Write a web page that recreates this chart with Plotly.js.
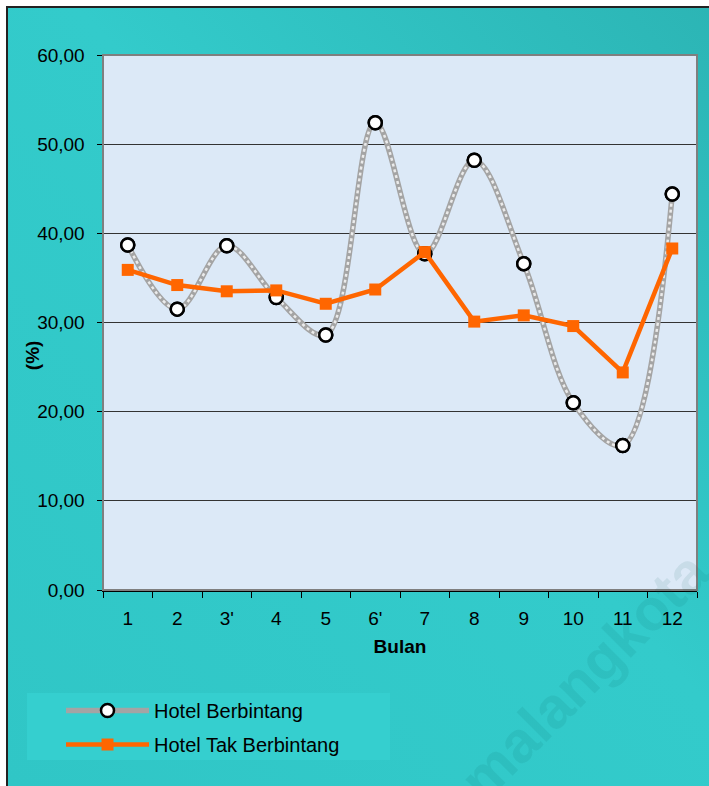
<!DOCTYPE html>
<html>
<head>
<meta charset="utf-8">
<script src="https://cdn.plot.ly/plotly-3.0.1.min.js"></script>
<style>
  html, body { margin: 0; padding: 0; background: #ffffff; }
  #bg { position: absolute; left: 6px; top: 6px; width: 703px; height: 780px;
        border-left: 2px solid #222; border-top: 2px solid #222; box-sizing: border-box;
        background: linear-gradient(to bottom left, #2CB5B5 0%, #33CBCB 45%, #30C6C6 100%); }
  #chart { position: absolute; left: 0; top: 0; width: 709px; height: 786px; }
</style>
</head>
<body>
<div id="bg"></div>
<div id="chart"></div>
<script>
// Data
const months = ["1", "2", "3'", "4", "5", "6'", "7", "8", "9", "10", "11", "12"];
const hotelBerbintang = [38.7, 31.5, 38.6, 32.8, 28.6, 52.4, 37.7, 48.2, 36.6, 21.0, 16.2, 44.4];
const hotelTakBerbintang = [35.9, 34.2, 33.5, 33.6, 32.1, 33.7, 37.9, 30.1, 30.8, 29.6, 24.4, 38.3];
const seriesNames = ["Hotel Berbintang", "Hotel Tak Berbintang"];
const xTitle = "Bulan";
const yTitle = "(%)";

const FONT = "Liberation Sans, Arial, sans-serif";

const traces = [
  { // outer gray textured line + markers (legend entry)
    x: months, y: hotelBerbintang, name: seriesNames[0], type: "scatter",
    mode: "lines+markers", legendgroup: "a",
    line: { color: "#a4a4a4", width: 5.5, shape: "spline", smoothing: 1 },
    marker: { symbol: "circle", size: 13, color: "#ffffff", line: { color: "#000000", width: 2.5 } }
  },
  { // inner light dotted texture
    x: months, y: hotelBerbintang, type: "scatter", mode: "lines", showlegend: false,
    hoverinfo: "skip", legendgroup: "a",
    line: { color: "#ebebeb", width: 2.5, shape: "spline", smoothing: 1, dash: "dot" }
  },
  { // markers on top
    x: months, y: hotelBerbintang, type: "scatter", mode: "markers", showlegend: false,
    legendgroup: "a",
    marker: { symbol: "circle", size: 13, color: "#ffffff", line: { color: "#000000", width: 2.5 } }
  },
  {
    x: months, y: hotelTakBerbintang, name: seriesNames[1], type: "scatter",
    mode: "lines+markers", legendgroup: "b",
    line: { color: "#FF6600", width: 4.5 },
    marker: { symbol: "square", size: 12, color: "#FF6600" }
  }
];

const layout = {
  width: 709, height: 786,
  paper_bgcolor: "rgba(0,0,0,0)",
  plot_bgcolor: "#DCE9F7",
  separators: ",.",
  font: { family: FONT, size: 19, color: "#000000" },
  margin: { l: 103, r: 12, t: 55, b: 196, pad: 0 },
  showlegend: true,
  legend: {
    x: -0.0707, y: -0.1888, xanchor: "left", yanchor: "top",
    bgcolor: "rgba(0,0,0,0)", borderwidth: 0,
    font: { family: FONT, size: 20, color: "#000000" },
    traceorder: "grouped", tracegroupgap: 5, itemwidth: 83
  },
  xaxis: {
    type: "category", range: [-0.5, 11.5], fixedrange: true,
    showline: true, linecolor: "#000000", linewidth: 1.5,
    ticks: "outside", tickson: "boundaries", ticklen: 6, tickcolor: "#000000", tickwidth: 1,
    ticklabelstandoff: 11,
    showgrid: false, zeroline: false,
    tickfont: { family: FONT, size: 19, color: "#000000" },
    title: { text: "<b>" + xTitle + "</b>", font: { family: FONT, size: 19, color: "#000000" }, standoff: 11 }
  },
  yaxis: {
    range: [0, 60], dtick: 10, tick0: 0, tickformat: ".2f", fixedrange: true,
    showline: true, linecolor: "#000000", linewidth: 1.5,
    ticks: "outside", ticklen: 5, tickcolor: "#000000", tickwidth: 1,
    ticklabelstandoff: 8,
    showgrid: true, gridcolor: "#333333", gridwidth: 1, zeroline: false,
    tickfont: { family: FONT, size: 19, color: "#000000" }
  },
  shapes: [
    { type: "rect", xref: "paper", yref: "paper", x0: 0, x1: 1, y0: 0, y1: 1,
      line: { color: "#7f7f7f", width: 2 }, fillcolor: "rgba(0,0,0,0)", layer: "above" },
    { type: "rect", xref: "paper", yref: "paper", x0: -0.1279, x1: 0.4832, y0: -0.3178, y1: -0.1925,
      line: { width: 0 }, fillcolor: "#35CFCF", layer: "below" }
  ],
  annotations: [
    { text: "<b>" + yTitle + "</b>", xref: "paper", yref: "paper", x: -0.1195, y: 0.439,
      xanchor: "center", yanchor: "middle", showarrow: false, textangle: -90,
      font: { family: FONT, size: 19, color: "#000000" } },
    { text: "<b>malangkota</b>", xref: "paper", yref: "paper", x: 0.8098, y: -0.1607,
      xanchor: "center", yanchor: "middle",
      showarrow: false, textangle: -45,
      font: { family: FONT, size: 58, color: "rgba(0,90,90,0.09)" } }
  ]
};

Plotly.newPlot("chart", traces, layout, { displayModeBar: false, staticPlot: true });
</script>
</body>
</html>
